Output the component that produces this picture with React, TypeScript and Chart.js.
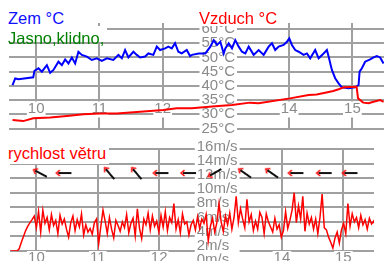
import React, { useEffect, useRef } from 'react';
import { Chart, registerables } from 'chart.js';

Chart.register(...registerables);

const FONT = "'Liberation Sans', Arial, sans-serif";
const GRID = '#a0a0a0';
const LABEL = '#8a8a8a';

// hour axis
const X_MIN = 9.57;
const X_MAX = 15.5;
const hourTicks = [10, 11, 12, 13, 14, 15];

// temperature panel
const tempTicks = [25, 30, 35, 40, 45, 50, 55, 60];

const zemTimes = [
  9.626, 9.668, 9.72, 9.953, 9.973, 10.036, 10.09, 10.169, 10.221, 10.273,
  10.352, 10.406, 10.458, 10.51, 10.564, 10.616, 10.668, 10.722, 10.801, 10.88,
  10.959, 11.038, 11.117, 11.221, 11.3, 11.354, 11.406, 11.458, 11.537, 11.591,
  11.643, 11.722, 11.774, 11.853, 11.907, 11.959, 12.038, 12.09, 12.144, 12.196,
  12.248, 12.302, 12.381, 12.433, 12.464, 12.57, 12.675, 12.754, 12.807, 12.859,
  12.912, 12.965, 12.991, 13.044, 13.096, 13.148, 13.202, 13.254, 13.307, 13.36,
  13.439, 13.518, 13.597, 13.676, 13.728, 13.78, 13.834, 13.913, 13.965, 14.002,
  14.044, 14.096, 14.15, 14.229, 14.281, 14.333, 14.412, 14.466, 14.545, 14.597,
  14.624, 14.676, 14.728, 14.782, 14.834, 14.94, 15.044, 15.098, 15.114, 15.15,
  15.202, 15.281, 15.335, 15.387, 15.439, 15.493,
];
const zemValues = [
  40.3, 42.6, 42.3, 43.0, 45.3, 46.2, 45.0, 47.3, 44.6, 45.6,
  48.5, 47.3, 49.3, 47.9, 50.0, 47.9, 52.0, 50.9, 50.3, 49.1,
  49.7, 48.8, 49.7, 49.1, 50.9, 49.7, 52.6, 50.0, 52.0, 50.9,
  50.0, 50.3, 51.4, 50.9, 53.8, 52.6, 53.2, 53.8, 53.2, 55.0,
  52.0, 51.4, 52.6, 50.5, 50.9, 51.4, 51.4, 53.8, 56.1, 54.4,
  55.5, 51.4, 53.2, 55.0, 53.2, 56.1, 53.8, 52.0, 51.4, 53.8,
  50.9, 52.6, 50.9, 53.8, 55.0, 52.6, 53.8, 54.4, 55.5, 56.7,
  54.4, 52.6, 52.0, 50.9, 51.4, 49.7, 52.6, 49.7, 51.4, 52.6,
  50.3, 45.6, 42.7, 40.9, 39.5, 39.2, 39.5, 40.3, 45.0, 46.2,
  48.5, 49.3, 50.0, 50.5, 50.0, 47.9,
];

const vzduchTimes = [
  9.626, 9.795, 9.953, 10.221, 10.485, 10.747, 11.011, 11.275, 11.643, 12.011,
  12.223, 12.464, 12.78, 13.096, 13.381, 13.518, 14.013, 14.308, 14.434, 14.57,
  14.697, 14.782, 14.855, 14.886, 15.066, 15.09, 15.171, 15.256, 15.335, 15.439, 15.493,
];
const vzduchValues = [
  28.0, 27.6, 28.6, 28.9, 29.4, 30.0, 30.3, 30.3, 30.9, 31.5,
  32.1, 32.1, 32.7, 33.3, 34.1, 33.9, 35.6, 36.8, 37.0, 37.6,
  38.2, 38.8, 39.4, 39.5, 39.7, 35.6, 34.1, 33.9, 34.4, 35.0, 34.4,
];

// wind panel
const windLabelTicks = [0, 2, 4, 6, 8, 10, 12, 14, 16];
const windStart = 9.58; // hour of first sample
const windStep = 0.035; // hours between samples
const windValues = [
  0, 0, 0, 0, 0.3, 1.2, 2.0, 2.8, 3.4, 3.9, 4.3,
  4.8, 3.2, 5.4, 2.6, 5.6, 3.8, 4.6, 2.9, 5.0, 3.5, 4.2, 2.4, 4.9, 3.7, 4.4, 3.0,
  1.9, 3.9, 4.8, 2.8, 4.3, 3.3, 5.1, 2.2, 3.6, 2.6, 3.1, 2.3, 3.9, 4.4,
  1.0, 3.4, 5.6, 4.1, 2.4, 4.6, 3.0, 1.8, 4.2, 3.5, 2.7, 4.0, 3.2, 5.0, 2.5,
  3.8, 4.5, 2.1, 5.8, 3.1, 1.7, 4.4, 3.6, 5.2, 2.9, 4.8, 3.4, 4.1, 2.6,
  4.9, 3.3, 5.4, 2.8, 4.6, 3.9, 6.5, 3.0, 4.3, 2.5, 5.1, 3.7, 4.0, 2.2, 3.6,
  4.2, 2.9, 4.7, 3.1, 4.4, 3.8, 5.0, 1.4, 3.4, 4.5, 2.6, 3.9, 6.5, 4.0,
  2.7, 4.8, 3.6, 5.2, 3.0, 4.6, 7.5, 3.9, 5.8, 4.4, 3.2, 7.1, 4.0, 5.0, 2.8,
  4.1, 3.0, 5.3, 4.6, 2.4, 5.1, 4.0, 3.3, 2.6, 4.5, 3.0, 3.6, 1.9, 2.8,
  5.4, 3.1, 4.2, 5.6, 8.0, 3.9, 6.2, 4.4, 7.5, 2.7, 5.2, 3.7, 4.6, 3.0, 4.4,
  2.4, 4.6, 7.8, 3.2, 2.9, 1.9, 1.2, 0.4, 1.8, 2.6, 1.1, 2.9, 3.8, 2.4,
  6.5, 3.4, 5.1, 4.0, 4.6, 3.2, 4.9, 3.6, 4.3, 3.0, 4.5, 3.7, 4.1, 3.3, 3.9,
];

// wind direction arrows
const arrowLevel = 10.7;
const arrowTimes = [10.055, 10.44, 11.185, 11.627, 12.02, 12.47, 12.9, 13.39, 13.83, 14.22, 14.68, 15.1];
const arrowAngles = [28, 0, 50, 50, 0, 0, -30, 35, 35, 0, 0, 0];

function buildArrow(): HTMLCanvasElement {
  const c = document.createElement('canvas');
  c.width = 18;
  c.height = 8;
  const g = c.getContext('2d')!;
  g.strokeStyle = '#111111';
  g.lineWidth = 2;
  g.beginPath();
  g.moveTo(4, 4);
  g.lineTo(17, 4);
  g.stroke();
  g.strokeStyle = '#ff0000';
  g.lineWidth = 1.5;
  g.beginPath();
  g.moveTo(5.5, 1);
  g.lineTo(2, 4);
  g.lineTo(5.5, 7);
  g.stroke();
  return c;
}

function xScale(padding: number, mirror: boolean): any {
  return {
    type: 'linear',
    min: X_MIN,
    max: X_MAX,
    afterBuildTicks: (s: any) => {
      s.ticks = hourTicks.map((v) => ({ value: v }));
    },
    grid: { color: GRID, lineWidth: 2, drawTicks: false },
    border: { display: false },
    ticks: {
      mirror,
      padding,
      autoSkip: false,
      maxRotation: 0,
      minRotation: 0,
      color: LABEL,
      font: { size: 15 },
      showLabelBackdrop: true,
      backdropColor: '#ffffff',
      backdropPadding: { top: -2, bottom: 0, left: 1, right: 1 },
      callback: (v: any) => String(v),
    },
  };
}

const TEXT_FONT = `16.5px ${FONT}`;

function Txt(props: { left: number; baseline: number; color: string; text: string }) {
  return (
    <div
      style={{
        position: 'absolute',
        left: props.left,
        top: props.baseline - 15.2,
        font: TEXT_FONT,
        lineHeight: '19px',
        color: props.color,
        whiteSpace: 'nowrap',
      }}
    >
      {props.text}
    </div>
  );
}

function Box(props: { left: number; top: number; width: number; height: number }) {
  return (
    <div
      style={{
        position: 'absolute',
        left: props.left,
        top: props.top,
        width: props.width,
        height: props.height,
        background: '#ffffff',
      }}
    />
  );
}

export default function App() {
  const topRef = useRef<HTMLCanvasElement>(null);
  const botRef = useRef<HTMLCanvasElement>(null);

  useEffect(() => {
    Chart.defaults.font.family = FONT;
    const arrow = buildArrow();

    const top = new Chart(topRef.current!, {
      type: 'line',
      data: {
        datasets: [
          {
            data: vzduchTimes.map((t, i) => ({ x: t, y: vzduchValues[i] })),
            borderColor: '#ff0000',
            borderWidth: 2,
            pointRadius: 0,
          },
          {
            data: zemTimes.map((t, i) => ({ x: t, y: zemValues[i] })),
            borderColor: '#0000ff',
            borderWidth: 2,
            pointRadius: 0,
          },
        ],
      },
      options: {
        animation: false,
        responsive: false,
        events: [],
        layout: { padding: { left: 9, right: 0, top: 23, bottom: 0.5 } },
        plugins: { legend: { display: false }, tooltip: { enabled: false } },
        scales: {
          x: xScale(11, true),
          y: {
            type: 'linear',
            position: { x: 13.144 } as any,
            min: 25,
            max: 62.11,
            afterBuildTicks: (s: any) => {
              s.ticks = tempTicks.map((v) => ({ value: v }));
            },
            grid: { color: GRID, lineWidth: 2, drawTicks: false },
            border: { display: false },
            ticks: {
              padding: 0,
              autoSkip: false,
              color: LABEL,
              font: { size: 15, lineHeight: '9px' },
              showLabelBackdrop: true,
              backdropColor: '#ffffff',
              backdropPadding: { top: 3, bottom: 3, left: 2, right: 2 },
              callback: (v: any) => v + '°C',
            },
          } as any,
        },
      },
    });

    const bot = new Chart(botRef.current!, {
      type: 'line',
      data: {
        datasets: [
          {
            data: arrowTimes.map((t) => ({ x: t, y: arrowLevel })),
            showLine: false,
            pointStyle: arrow as any,
            pointRadius: 9,
            rotation: (ctx: any) => arrowAngles[ctx.dataIndex] ?? 0,
          } as any,
          {
            data: windValues.map((v, i) => ({ x: windStart + i * windStep, y: v })),
            borderColor: '#ff0000',
            borderWidth: 1.5,
            pointRadius: 0,
          },
        ],
      },
      options: {
        animation: false,
        responsive: false,
        events: [],
        layout: { padding: { left: 9, right: 0, top: 5, bottom: 2 } },
        plugins: { legend: { display: false }, tooltip: { enabled: false } },
        scales: {
          x: xScale(-2.5, false),
          y: {
            type: 'linear',
            position: 'left',
            min: 0,
            max: 14,
            ticks: { display: false, stepSize: 2 },
            grid: { color: GRID, lineWidth: 2, drawTicks: false },
            border: { display: false },
          },
          yl: {
            type: 'linear',
            axis: 'y',
            position: { x: 13.278 } as any,
            min: 1.275,
            max: 15.64,
            afterBuildTicks: (s: any) => {
              s.ticks = windLabelTicks.map((v) => ({ value: v }));
            },
            grid: { display: false, drawTicks: false },
            border: { display: false },
            ticks: {
              padding: 0,
              autoSkip: false,
              color: LABEL,
              font: { size: 15, lineHeight: '9px' },
              showLabelBackdrop: true,
              backdropColor: '#ffffff',
              backdropPadding: { top: 3, bottom: 3, left: 2, right: 2 },
              callback: (v: any) => v + 'm/s' + (v < 10 ? '  ' : ''),
            },
          } as any,
        },
      },
    });

    return () => {
      top.destroy();
      bot.destroy();
    };
  }, []);

  return (
    <div
      style={{
        position: 'fixed',
        left: 0,
        top: 0,
        width: 384,
        height: 261,
        overflow: 'hidden',
        background: '#ffffff',
      }}
    >
      <canvas
        ref={topRef}
        width={384}
        height={151}
        style={{ position: 'absolute', left: 0, top: 0, width: 384, height: 151 }}
      />
      <div
        style={{
          position: 'absolute',
          left: 0,
          top: 134,
          width: 384,
          height: 127,
          overflow: 'hidden',
          background: '#ffffff',
        }}
      >
        <canvas
          ref={botRef}
          width={384}
          height={127}
          style={{ position: 'absolute', left: 0, top: 5, width: 384, height: 127 }}
        />
      </div>
      <Box left={8} top={9} width={57} height={17} />
      <Box left={8} top={26} width={99} height={16} />
      <Box left={198} top={9} width={81} height={17} />
      <Box left={8} top={139} width={101} height={25} />
      <Txt left={8} baseline={24.5} color="#1010ff" text="Zem °C" />
      <Txt left={8} baseline={44} color="#008000" text="Jasno,klidno," />
      <Txt left={199} baseline={24.5} color="#ff0000" text="Vzduch °C" />
      <Txt left={8} baseline={159} color="#ff0000" text="rychlost větru" />
    </div>
  );
}
